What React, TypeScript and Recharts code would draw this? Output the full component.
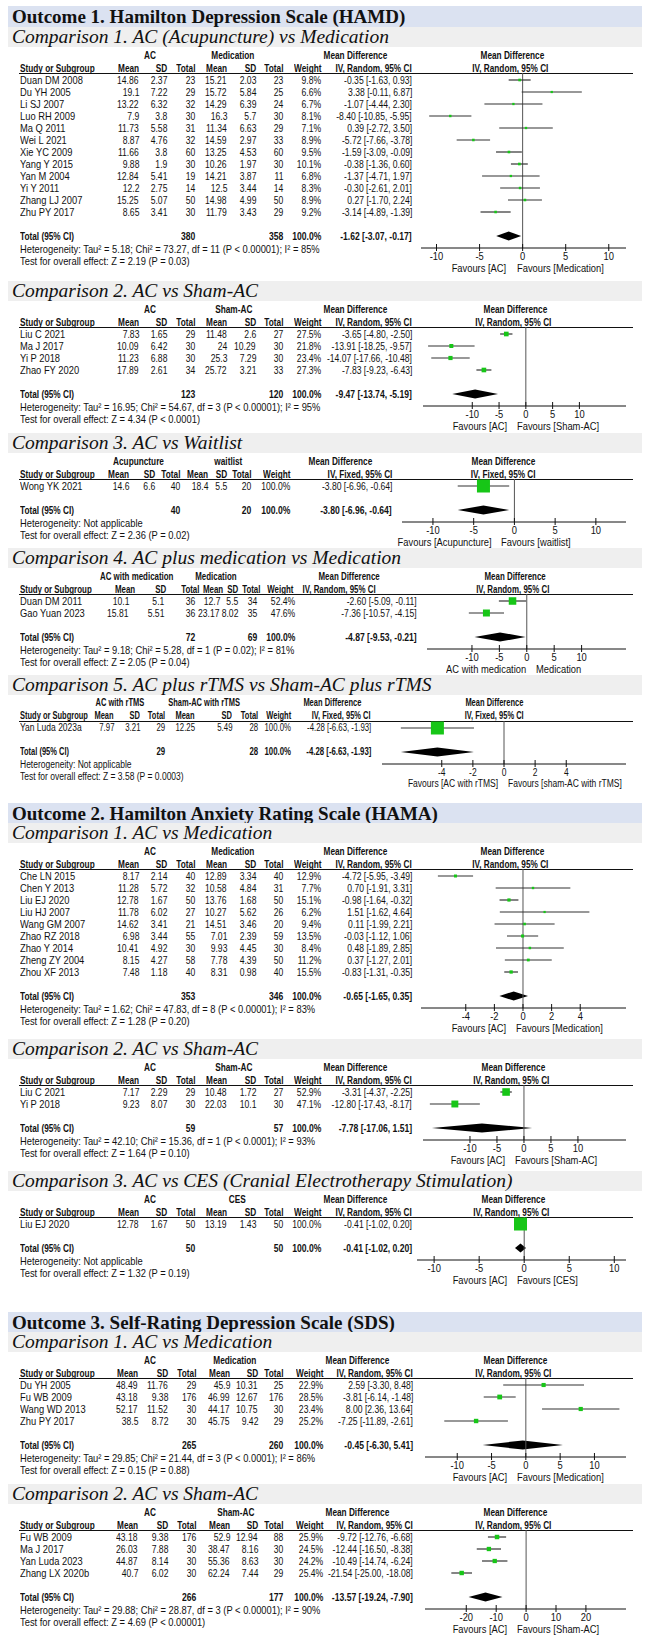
import React from 'react';
import { ComposedChart, Scatter, XAxis, YAxis, ReferenceLine, ReferenceArea } from 'recharts';

// [study, AC mean, AC sd, AC n, ctrl mean, ctrl sd, ctrl n, weight %, MD, lower, upper]
type Row = [string, number, number, number, number, number, number, number, number, number, number];
// [AC n, ctrl n, MD, lower, upper]
type Total = [number, number, number, number, number];

// ---------- Outcome 1: HAMD ----------
const HAMD_MED: Row[] = [
  ['Duan DM 2008', 14.86, 2.37, 23, 15.21, 2.03, 23, 9.8, -0.35, -1.63, 0.93],
  ['Du YH 2005', 19.1, 7.22, 29, 15.72, 5.84, 25, 6.6, 3.38, -0.11, 6.87],
  ['Li SJ 2007', 13.22, 6.32, 32, 14.29, 6.39, 24, 6.7, -1.07, -4.44, 2.3],
  ['Luo RH 2009', 7.9, 3.8, 30, 16.3, 5.7, 30, 8.1, -8.4, -10.85, -5.95],
  ['Ma Q 2011', 11.73, 5.58, 31, 11.34, 6.63, 29, 7.1, 0.39, -2.72, 3.5],
  ['Wei L 2021', 8.87, 4.76, 32, 14.59, 2.97, 33, 8.9, -5.72, -7.66, -3.78],
  ['Xie YC 2009', 11.66, 3.8, 60, 13.25, 4.53, 60, 9.5, -1.59, -3.09, -0.09],
  ['Yang Y 2015', 9.88, 1.9, 30, 10.26, 1.97, 30, 10.1, -0.38, -1.36, 0.6],
  ['Yan M 2004', 12.84, 5.41, 19, 14.21, 3.87, 11, 6.8, -1.37, -4.71, 1.97],
  ['Yi Y 2011', 12.2, 2.75, 14, 12.5, 3.44, 14, 8.3, -0.3, -2.61, 2.01],
  ['Zhang LJ 2007', 15.25, 5.07, 50, 14.98, 4.99, 50, 8.9, 0.27, -1.7, 2.24],
  ['Zhu PY 2017', 8.65, 3.41, 30, 11.79, 3.43, 29, 9.2, -3.14, -4.89, -1.39],
];
const HAMD_MED_TOTAL: Total = [380, 358, -1.62, -3.07, -0.17];
const HAMD_MED_HET = 'Heterogeneity: Tau² = 5.18; Chi² = 73.27, df = 11 (P < 0.00001); I² = 85%';
const HAMD_MED_TEST = 'Test for overall effect: Z = 2.19 (P = 0.03)';

const HAMD_SHAM: Row[] = [
  ['Liu C 2021', 7.83, 1.65, 29, 11.48, 2.6, 27, 27.5, -3.65, -4.8, -2.5],
  ['Ma J 2017', 10.09, 6.42, 30, 24, 10.29, 30, 21.8, -13.91, -18.25, -9.57],
  ['Yi P 2018', 11.23, 6.88, 30, 25.3, 7.29, 30, 23.4, -14.07, -17.66, -10.48],
  ['Zhao FY 2020', 17.89, 2.61, 34, 25.72, 3.21, 33, 27.3, -7.83, -9.23, -6.43],
];
const HAMD_SHAM_TOTAL: Total = [123, 120, -9.47, -13.74, -5.19];
const HAMD_SHAM_HET = 'Heterogeneity: Tau² = 16.95; Chi² = 54.67, df = 3 (P < 0.00001); I² = 95%';
const HAMD_SHAM_TEST = 'Test for overall effect: Z = 4.34 (P < 0.0001)';

const HAMD_WAIT: Row[] = [['Wong YK 2021', 14.6, 6.6, 40, 18.4, 5.5, 20, 100, -3.8, -6.96, -0.64]];
const HAMD_WAIT_TOTAL: Total = [40, 20, -3.8, -6.96, -0.64];
const HAMD_WAIT_TEST = 'Test for overall effect: Z = 2.36 (P = 0.02)';

const HAMD_PLUSMED: Row[] = [
  ['Duan DM 2011', 10.1, 5.1, 36, 12.7, 5.5, 34, 52.4, -2.6, -5.09, -0.11],
  ['Gao Yuan 2023', 15.81, 5.51, 36, 23.17, 8.02, 35, 47.6, -7.36, -10.57, -4.15],
];
const HAMD_PLUSMED_TOTAL: Total = [72, 69, -4.87, -9.53, -0.21];
const HAMD_PLUSMED_HET = 'Heterogeneity: Tau² = 9.18; Chi² = 5.28, df = 1 (P = 0.02); I² = 81%';
const HAMD_PLUSMED_TEST = 'Test for overall effect: Z = 2.05 (P = 0.04)';

const HAMD_RTMS: Row[] = [['Yan Luda 2023a', 7.97, 3.21, 29, 12.25, 5.49, 28, 100, -4.28, -6.63, -1.93]];
const HAMD_RTMS_TOTAL: Total = [29, 28, -4.28, -6.63, -1.93];
const HAMD_RTMS_TEST = 'Test for overall effect: Z = 3.58 (P = 0.0003)';

// ---------- Outcome 2: HAMA ----------
const HAMA_MED: Row[] = [
  ['Che LN 2015', 8.17, 2.14, 40, 12.89, 3.34, 40, 12.9, -4.72, -5.95, -3.49],
  ['Chen Y 2013', 11.28, 5.72, 32, 10.58, 4.84, 31, 7.7, 0.7, -1.91, 3.31],
  ['Liu EJ 2020', 12.78, 1.67, 50, 13.76, 1.68, 50, 15.1, -0.98, -1.64, -0.32],
  ['Liu HJ 2007', 11.78, 6.02, 27, 10.27, 5.62, 26, 6.2, 1.51, -1.62, 4.64],
  ['Wang GM 2007', 14.62, 3.41, 21, 14.51, 3.46, 20, 9.4, 0.11, -1.99, 2.21],
  ['Zhao RZ 2018', 6.98, 3.44, 55, 7.01, 2.39, 59, 13.5, -0.03, -1.12, 1.06],
  ['Zhao Y 2014', 10.41, 4.92, 30, 9.93, 4.45, 30, 8.4, 0.48, -1.89, 2.85],
  ['Zheng ZY 2004', 8.15, 4.27, 58, 7.78, 4.39, 50, 11.2, 0.37, -1.27, 2.01],
  ['Zhou XF 2013', 7.48, 1.18, 40, 8.31, 0.98, 40, 15.5, -0.83, -1.31, -0.35],
];
const HAMA_MED_TOTAL: Total = [353, 346, -0.65, -1.65, 0.35];
const HAMA_MED_HET = 'Heterogeneity: Tau² = 1.62; Chi² = 47.83, df = 8 (P < 0.00001); I² = 83%';
const HAMA_MED_TEST = 'Test for overall effect: Z = 1.28 (P = 0.20)';

const HAMA_SHAM: Row[] = [
  ['Liu C 2021', 7.17, 2.29, 29, 10.48, 1.72, 27, 52.9, -3.31, -4.37, -2.25],
  ['Yi P 2018', 9.23, 8.07, 30, 22.03, 10.1, 30, 47.1, -12.8, -17.43, -8.17],
];
const HAMA_SHAM_TOTAL: Total = [59, 57, -7.78, -17.06, 1.51];
const HAMA_SHAM_HET = 'Heterogeneity: Tau² = 42.10; Chi² = 15.36, df = 1 (P < 0.0001); I² = 93%';
const HAMA_SHAM_TEST = 'Test for overall effect: Z = 1.64 (P = 0.10)';

const HAMA_CES: Row[] = [['Liu EJ 2020', 12.78, 1.67, 50, 13.19, 1.43, 50, 100, -0.41, -1.02, 0.2]];
const HAMA_CES_TOTAL: Total = [50, 50, -0.41, -1.02, 0.2];
const HAMA_CES_TEST = 'Test for overall effect: Z = 1.32 (P = 0.19)';

// ---------- Outcome 3: SDS ----------
const SDS_MED: Row[] = [
  ['Du YH 2005', 48.49, 11.76, 29, 45.9, 10.31, 25, 22.9, 2.59, -3.3, 8.48],
  ['Fu WB 2009', 43.18, 9.38, 176, 46.99, 12.67, 176, 28.5, -3.81, -6.14, -1.48],
  ['Wang WD 2013', 52.17, 11.52, 30, 44.17, 10.75, 30, 23.4, 8.0, 2.36, 13.64],
  ['Zhu PY 2017', 38.5, 8.72, 30, 45.75, 9.42, 29, 25.2, -7.25, -11.89, -2.61],
];
const SDS_MED_TOTAL: Total = [265, 260, -0.45, -6.3, 5.41];
const SDS_MED_HET = 'Heterogeneity: Tau² = 29.85; Chi² = 21.44, df = 3 (P < 0.0001); I² = 86%';
const SDS_MED_TEST = 'Test for overall effect: Z = 0.15 (P = 0.88)';

const SDS_SHAM: Row[] = [
  ['Fu WB 2009', 43.18, 9.38, 176, 52.9, 12.94, 88, 25.9, -9.72, -12.76, -6.68],
  ['Ma J 2017', 26.03, 7.88, 30, 38.47, 8.16, 30, 24.5, -12.44, -16.5, -8.38],
  ['Yan Luda 2023', 44.87, 8.14, 30, 55.36, 8.63, 30, 24.2, -10.49, -14.74, -6.24],
  ['Zhang LX 2020b', 40.7, 6.02, 30, 62.24, 7.44, 29, 25.4, -21.54, -25.0, -18.08],
];
const SDS_SHAM_TOTAL: Total = [266, 177, -13.57, -19.24, -7.9];
const SDS_SHAM_HET = 'Heterogeneity: Tau² = 29.88; Chi² = 28.87, df = 3 (P < 0.00001); I² = 90%';
const SDS_SHAM_TEST = 'Test for overall effect: Z = 4.69 (P < 0.00001)';

const NOT_APPLICABLE = 'Heterogeneity: Not applicable';
const TICKS_10 = [-10, -5, 0, 5, 10];
const TICKS_4 = [-4, -2, 0, 2, 4];
const TICKS_20 = [-20, -10, 0, 10, 20];

// ---------- styling / layout ----------
const W = 648;
const ROW_H = 12;
const INK = '#111';
const GREEN = '#17c617';
const TXT = 0.85;   // horizontal squeeze for words
const NUM = 0.78;   // horizontal squeeze for figures
const HEAD = 0.75;  // horizontal squeeze for bold headings
const FONT = '"Liberation Sans", Arial, sans-serif';
const SERIF = '"Liberation Serif", "Times New Roman", serif';

type Cols = { m1: number; s1: number; n1: number; m2: number; s2: number; n2: number; w: number; ci: number; g1: number; g2: number; md: number };
const COLS_STD: Cols = { m1: 139, s1: 167, n1: 195, m2: 227, s2: 256, n2: 283, w: 321, ci: 412, g1: 152, g2: 240, md: 366 };
const COLS_WAIT: Cols = { m1: 129, s1: 155, n1: 180, m2: 208, s2: 227, n2: 251, w: 290, ci: 392, g1: 147, g2: 233, md: 351 };
const COLS_PLUSMED: Cols = { m1: 129, s1: 164, n1: 195, m2: 220, s2: 238, n2: 257, w: 295, ci: 417, g1: 151, g2: 222, md: 361 };
const HEAD_PLUSMED: Cols = { m1: 135, s1: 166, n1: 199, m2: 223, s2: 238, n2: 260, w: 293, ci: 376, g1: 151, g2: 224, md: 361 };
const COLS_RTMS: Cols = { m1: 114, s1: 140, n1: 165, m2: 195, s2: 232, n2: 258, w: 291, ci: 371, g1: 128, g2: 216, md: 342 };
const COLS_SDS: Cols = { m1: 138, s1: 168, n1: 196, m2: 230, s2: 258, n2: 283, w: 323, ci: 413, g1: 152, g2: 242, md: 368 };

type Cmp = {
  top: number; title: string; groups: [string, string]; method: string;
  rows: Row[]; total: Total; het: string; test: string; favours: [string, string];
  ticks: number[]; domain: [number, number]; plot: [number, number]; cols: Cols; fav: number;
  fs?: number; hc?: Cols; hs?: number;
};

const OUTCOMES = [
  { top: 6, title: 'Outcome 1. Hamilton Depression Scale (HAMD)' },
  { top: 803, title: 'Outcome 2. Hamilton Anxiety Rating Scale (HAMA)' },
  { top: 1312, title: 'Outcome 3. Self-Rating Depression Scale (SDS)' },
];

const COMPARISONS: Cmp[] = [
  { top: 27, title: 'Comparison 1. AC (Acupuncture) vs Medication', groups: ['AC', 'Medication'], method: 'Random', rows: HAMD_MED, total: HAMD_MED_TOTAL, het: HAMD_MED_HET, test: HAMD_MED_TEST, favours: ['Favours [AC]', 'Favours [Medication]'], ticks: TICKS_10, domain: [-11.8, 12], plot: [421, 626], cols: COLS_STD, fav: -11 },
  { top: 281, title: 'Comparison 2. AC vs Sham-AC', groups: ['AC', 'Sham-AC'], method: 'Random', rows: HAMD_SHAM, total: HAMD_SHAM_TOTAL, het: HAMD_SHAM_HET, test: HAMD_SHAM_TEST, favours: ['Favours [AC]', 'Favours [Sham-AC]'], ticks: TICKS_10, domain: [-19.2, 18.7], plot: [423, 626], cols: COLS_STD, fav: -14 },
  { top: 433, title: 'Comparison 3. AC vs Waitlist', groups: ['Acupuncture', 'waitlist'], method: 'Fixed', rows: HAMD_WAIT, total: HAMD_WAIT_TOTAL, het: NOT_APPLICABLE, test: HAMD_WAIT_TEST, favours: ['Favours [Acupuncture]', 'Favours [waitlist]'], ticks: TICKS_10, domain: [-13.8, 13.7], plot: [402, 626], cols: COLS_WAIT, fav: -18 },
  { top: 548, title: 'Comparison 4. AC plus medication vs Medication', groups: ['AC with medication', 'Medication'], method: 'Random', rows: HAMD_PLUSMED, total: HAMD_PLUSMED_TOTAL, het: HAMD_PLUSMED_HET, test: HAMD_PLUSMED_TEST, favours: ['AC with medication', 'Medication'], ticks: TICKS_10, domain: [-18.2, 18.1], plot: [427, 626], cols: COLS_PLUSMED, fav: 4, hc: HEAD_PLUSMED, hs: 0.72 },
  { top: 675, title: 'Comparison 5. AC plus rTMS vs Sham-AC plus rTMS', groups: ['AC with rTMS', 'Sham-AC with rTMS'], method: 'Fixed', rows: HAMD_RTMS, total: HAMD_RTMS_TOTAL, het: NOT_APPLICABLE, test: HAMD_RTMS_TEST, favours: ['Favours [AC with rTMS]', 'Favours [sham-AC with rTMS]'], ticks: TICKS_4, domain: [-7.84, 7.84], plot: [382, 626], cols: COLS_RTMS, fav: -1, fs: 10 },
  { top: 823, title: 'Comparison 1. AC vs Medication', groups: ['AC', 'Medication'], method: 'Random', rows: HAMA_MED, total: HAMA_MED_TOTAL, het: HAMA_MED_HET, test: HAMA_MED_TEST, favours: ['Favours [AC]', 'Favours [Medication]'], ticks: TICKS_4, domain: [-7.13, 7.2], plot: [421, 626], cols: COLS_STD, fav: -12 },
  { top: 1039, title: 'Comparison 2. AC vs Sham-AC', groups: ['AC', 'Sham-AC'], method: 'Random', rows: HAMA_SHAM, total: HAMA_SHAM_TOTAL, het: HAMA_SHAM_HET, test: HAMA_SHAM_TEST, favours: ['Favours [AC]', 'Favours [Sham-AC]'], ticks: TICKS_10, domain: [-18.7, 18.9], plot: [423, 626], cols: COLS_STD, fav: -14 },
  { top: 1171, title: 'Comparison 3. AC vs CES (Cranial Electrotherapy Stimulation)', groups: ['AC', 'CES'], method: 'Random', rows: HAMA_CES, total: HAMA_CES_TOTAL, het: NOT_APPLICABLE, test: HAMA_CES_TEST, favours: ['Favours [AC]', 'Favours [CES]'], ticks: TICKS_10, domain: [-11.9, 11.3], plot: [417, 626], cols: COLS_STD, fav: -12 },
  { top: 1332, title: 'Comparison 1. AC vs Medication', groups: ['AC', 'Medication'], method: 'Random', rows: SDS_MED, total: SDS_MED_TOTAL, het: SDS_MED_HET, test: SDS_MED_TEST, favours: ['Favours [AC]', 'Favours [Medication]'], ticks: TICKS_10, domain: [-14.7, 14.6], plot: [425, 626], cols: COLS_SDS, fav: -14 },
  { top: 1484, title: 'Comparison 2. AC vs Sham-AC', groups: ['AC', 'Sham-AC'], method: 'Random', rows: SDS_SHAM, total: SDS_SHAM_TOTAL, het: SDS_SHAM_HET, test: SDS_SHAM_TEST, favours: ['Favours [AC]', 'Favours [Sham-AC]'], ticks: TICKS_20, domain: [-33.8, 33.4], plot: [425, 626], cols: COLS_SDS, fav: -14 },
];

const fmtCI = (md: number, lo: number, hi: number) => `${md.toFixed(2)} [${lo.toFixed(2)}, ${hi.toFixed(2)}]`;

function Txt({ x, y, align = 'left', bold, sx = TXT, children }: { x: number; y: number; align?: string; bold?: boolean; sx?: number; children: React.ReactNode }) {
  const style: React.CSSProperties = {
    position: 'absolute', top: y - 7, height: 14, lineHeight: '14px', whiteSpace: 'nowrap', fontWeight: bold ? 700 : 400,
  };
  if (align === 'left') {
    style.left = x;
    style.transform = `scaleX(${sx})`;
    style.transformOrigin = 'left center';
  } else if (align === 'right') {
    style.right = W - x;
    style.transform = `scaleX(${sx})`;
    style.transformOrigin = 'right center';
  } else {
    style.left = x;
    style.transform = `translateX(-50%) scaleX(${sx})`;
    style.transformOrigin = 'left center';
  }
  return <div style={style}>{children}</div>;
}

const tickRenderer = (fs: number) => (p: any) => (
  <g>
    <line x1={p.x} x2={p.x} y1={p.y - 4} y2={p.y + 3} stroke={INK} />
    <text transform={`translate(${p.x},${p.y + 12}) scale(${TXT},1)`} textAnchor="middle" fontSize={fs} fontFamily={FONT} fill={INK}>{p.payload.value}</text>
  </g>
);

const squareShape = (p: any) => {
  const s = 1.5 + 0.115 * p.payload.w;
  return <rect x={p.cx - s / 2} y={p.cy - s / 2} width={s} height={s} fill={GREEN} />;
};

function Comparison({ c }: { c: Cmp }) {
  const k = c.cols;
  const hk = c.hc ?? c.cols;
  const hs = c.hs ?? HEAD;
  const fs = c.fs ?? 11;
  const n = c.rows.length;
  const under = c.top + 46;
  const rowY = (i: number) => under + 7 + ROW_H * i;
  const totalY = rowY(n + 1);
  const axisY = rowY(n + 2);
  const [x0, x1] = c.plot;
  const zeroX = x0 + ((0 - c.domain[0]) / (c.domain[1] - c.domain[0])) * (x1 - x0);
  const [tn1, tn2, tmd, tlo, thi] = c.total;
  const frac = (tmd - tlo) / (thi - tlo);
  const pts = c.rows.map((r, i) => ({ md: r[8], y: i, w: r[7] }));
  const diamond = (p: any) => {
    const { x, y, width, height } = p;
    const cx = x + width * frac;
    const cy = y + height / 2;
    return <polygon points={`${x},${cy} ${cx},${y} ${x + width},${cy} ${cx},${y + height}`} fill="#000" />;
  };
  const h1 = c.top + 28;
  const h2 = c.top + 41;

  return (
    <>
      <div style={{ position: 'absolute', left: 8, top: c.top, width: 634, height: 20, background: '#efefef' }} />
      <div style={{ position: 'absolute', left: 12, top: c.top - 1, lineHeight: '22px', fontFamily: SERIF, fontStyle: 'italic', fontSize: 19.5, color: '#111', whiteSpace: 'nowrap' }}>{c.title}</div>
      <div style={{ position: 'absolute', left: 19, top: under, width: 614, height: 1, background: INK }} />
      <div style={{ fontFamily: FONT, fontSize: fs, color: INK }}>
        <Txt x={hk.g1} y={h1} align="center" bold sx={hs}>{c.groups[0]}</Txt>
        <Txt x={hk.g2} y={h1} align="center" bold sx={hs}>{c.groups[1]}</Txt>
        <Txt x={hk.md} y={h1} align="center" bold sx={hs}>Mean Difference</Txt>
        <Txt x={zeroX} y={h1} align="center" bold sx={hs}>Mean Difference</Txt>
        <Txt x={20} y={h2} bold sx={hs}>Study or Subgroup</Txt>
        <Txt x={hk.m1} y={h2} align="right" bold sx={hs}>Mean</Txt>
        <Txt x={hk.s1} y={h2} align="right" bold sx={hs}>SD</Txt>
        <Txt x={hk.n1} y={h2} align="right" bold sx={hs}>Total</Txt>
        <Txt x={hk.m2} y={h2} align="right" bold sx={hs}>Mean</Txt>
        <Txt x={hk.s2} y={h2} align="right" bold sx={hs}>SD</Txt>
        <Txt x={hk.n2} y={h2} align="right" bold sx={hs}>Total</Txt>
        <Txt x={hk.w} y={h2} align="right" bold sx={hs}>Weight</Txt>
        <Txt x={hk.ci} y={h2} align="right" bold sx={hs}>{`IV, ${c.method}, 95% CI`}</Txt>
        <Txt x={zeroX} y={h2} align="center" bold sx={hs}>{`IV, ${c.method}, 95% CI`}</Txt>
        {c.rows.map((r, i) => (
          <React.Fragment key={r[0]}>
            <Txt x={20} y={rowY(i)}>{r[0]}</Txt>
            <Txt x={k.m1} y={rowY(i)} align="right" sx={NUM}>{String(r[1])}</Txt>
            <Txt x={k.s1} y={rowY(i)} align="right" sx={NUM}>{String(r[2])}</Txt>
            <Txt x={k.n1} y={rowY(i)} align="right" sx={NUM}>{String(r[3])}</Txt>
            <Txt x={k.m2} y={rowY(i)} align="right" sx={NUM}>{String(r[4])}</Txt>
            <Txt x={k.s2} y={rowY(i)} align="right" sx={NUM}>{String(r[5])}</Txt>
            <Txt x={k.n2} y={rowY(i)} align="right" sx={NUM}>{String(r[6])}</Txt>
            <Txt x={k.w} y={rowY(i)} align="right" sx={NUM}>{`${r[7].toFixed(1)}%`}</Txt>
            <Txt x={k.ci} y={rowY(i)} align="right" sx={NUM}>{fmtCI(r[8], r[9], r[10])}</Txt>
          </React.Fragment>
        ))}
        <Txt x={20} y={totalY} bold sx={HEAD}>Total (95% CI)</Txt>
        <Txt x={k.n1} y={totalY} align="right" bold sx={NUM}>{String(tn1)}</Txt>
        <Txt x={k.n2} y={totalY} align="right" bold sx={NUM}>{String(tn2)}</Txt>
        <Txt x={k.w} y={totalY} align="right" bold sx={NUM}>100.0%</Txt>
        <Txt x={k.ci} y={totalY} align="right" bold sx={NUM}>{fmtCI(tmd, tlo, thi)}</Txt>
        <Txt x={20} y={totalY + 13}>{c.het}</Txt>
        <Txt x={20} y={totalY + 25}>{c.test}</Txt>
        <Txt x={zeroX + c.fav - 5} y={axisY + 20} align="right">{c.favours[0]}</Txt>
        <Txt x={zeroX + c.fav + 5} y={axisY + 20}>{c.favours[1]}</Txt>
      </div>
      <div style={{ position: 'absolute', left: x0, top: under }}>
        <ComposedChart width={x1 - x0} height={axisY - under + 18} margin={{ top: 0, right: 0, bottom: 0, left: 0 }}>
          <XAxis type="number" dataKey="md" domain={c.domain} ticks={c.ticks} interval={0} allowDataOverflow height={18}
            tickSize={0} tickMargin={0} tickLine={false} axisLine={{ stroke: INK }} tick={tickRenderer(fs)} />
          <YAxis type="number" dataKey="y" domain={[-7 / 12, n + 2]} reversed hide allowDataOverflow />
          <ReferenceLine x={0} stroke="#555" ifOverflow="visible" />
          {c.rows.map((r, i) => (
            <ReferenceLine key={r[0]} segment={[{ x: r[9], y: i }, { x: r[10], y: i }]} stroke="#333" strokeWidth={1.2} ifOverflow="hidden" />
          ))}
          <ReferenceArea x1={tlo} x2={thi} y1={n + 1 - 0.38} y2={n + 1 + 0.38} shape={diamond} ifOverflow="visible" />
          <Scatter data={pts} shape={squareShape} isAnimationActive={false} />
        </ComposedChart>
      </div>
    </>
  );
}

export default function App() {
  return (
    <div style={{ position: 'absolute', left: 0, top: 0, width: W, height: 1637, background: '#fff', overflow: 'hidden' }}>
      {OUTCOMES.map((o) => (
        <React.Fragment key={o.title}>
          <div style={{ position: 'absolute', left: 8, top: o.top, width: 634, height: 21, background: '#dbe2f1' }} />
          <div style={{ position: 'absolute', left: 12, top: o.top - 1, lineHeight: '23px', fontFamily: SERIF, fontWeight: 700, fontSize: 19, color: '#111', whiteSpace: 'nowrap' }}>{o.title}</div>
        </React.Fragment>
      ))}
      {COMPARISONS.map((c) => <Comparison key={c.top} c={c} />)}
    </div>
  );
}
